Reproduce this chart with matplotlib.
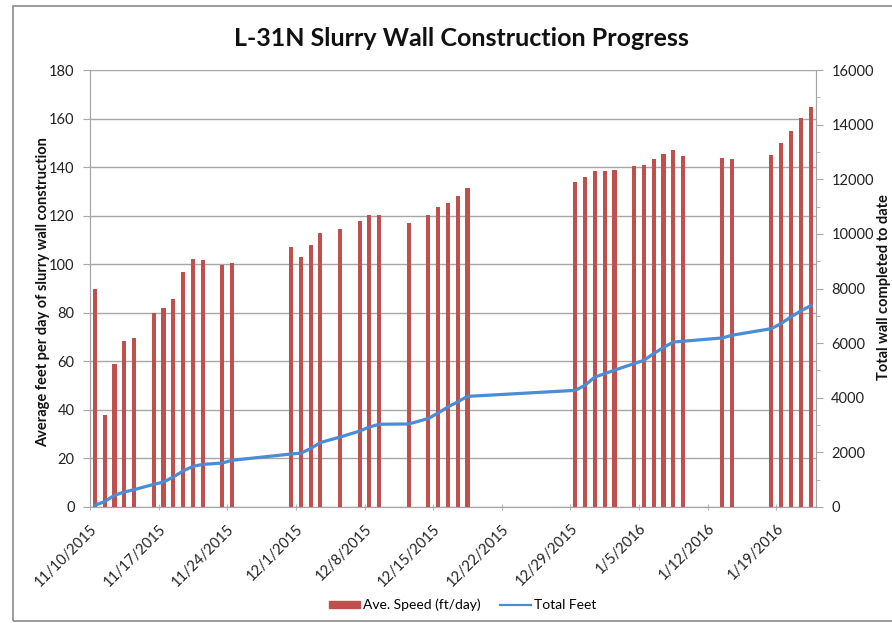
import matplotlib
matplotlib.use("Agg")
import matplotlib.pyplot as plt
import matplotlib.dates as mdates
from matplotlib.patches import Rectangle
from matplotlib.lines import Line2D
from matplotlib.ticker import MultipleLocator, FixedLocator
import datetime as dt

plt.rcParams['font.family'] = ['Lato', 'DejaVu Sans']

dates = ["2015-11-10", "2015-11-11", "2015-11-12", "2015-11-13", "2015-11-14",
         "2015-11-16", "2015-11-17", "2015-11-18", "2015-11-19", "2015-11-20",
         "2015-11-21", "2015-11-23", "2015-11-24", "2015-11-30", "2015-12-01",
         "2015-12-02", "2015-12-03", "2015-12-05", "2015-12-07", "2015-12-08",
         "2015-12-09", "2015-12-12", "2015-12-14", "2015-12-15", "2015-12-16",
         "2015-12-17", "2015-12-18", "2015-12-29", "2015-12-30", "2015-12-31",
         "2016-01-01", "2016-01-02", "2016-01-04", "2016-01-05", "2016-01-06",
         "2016-01-07", "2016-01-08", "2016-01-09", "2016-01-13", "2016-01-14",
         "2016-01-18", "2016-01-19", "2016-01-20", "2016-01-21", "2016-01-22"]

ave_speed = [90, 38, 58.7, 68.4, 69.8,
             79.8, 81.9, 85.7, 96.7, 102,
             101.7, 99.8, 100.6, 107.2, 103,
             107.9, 112.7, 114.5, 117.6, 120.1,
             120.4, 116.8, 120.4, 123.5, 125.4,
             128.3, 131.4, 133.8, 135.9, 138.4,
             138.5, 138.9, 140.4, 140.8, 143.3,
             145.6, 147.2, 144.5, 143.6, 143.3,
             144.8, 150, 154.9, 160.1, 164.7]

total_feet = [60, 200, 430, 550, 635,
              830, 915, 1100, 1320, 1490,
              1560, 1610, 1710, 1940, 1970,
              2140, 2360, 2560, 2780, 2930,
              3030, 3040, 3240, 3440, 3660,
              3850, 4050, 4270, 4460, 4760,
              4880, 5010, 5250, 5370, 5620,
              5840, 6040, 6070, 6190, 6290,
              6530, 6720, 6960, 7180, 7370]

tick_labels = ["11/10/2015", "11/17/2015", "11/24/2015", "12/1/2015", "12/8/2015",
               "12/15/2015", "12/22/2015", "12/29/2015", "1/5/2016", "1/12/2016",
               "1/19/2016"]

title = "L-31N Slurry Wall Construction Progress"

BAR_COLOR = "#C0504D"
LINE_COLOR = "#4A8CD6"
GRID_COLOR = "#A6A6A6"

d = [dt.datetime.strptime(s, "%Y-%m-%d") + dt.timedelta(hours=12) for s in dates]
x = mdates.date2num(d)
tick_dates = mdates.date2num([dt.datetime.strptime(s, "%m/%d/%Y") for s in tick_labels])

fig = plt.figure(figsize=(8.92, 6.23), dpi=100)
ax = fig.add_axes([90/892, 1-507/623, (816-90)/892, (507-70)/623])
ax2 = ax.twinx()

ax.bar(x, ave_speed, width=0.42, color=BAR_COLOR, zorder=3, label="Ave. Speed (ft/day)")
ax2.plot(x, total_feet, color=LINE_COLOR, lw=2.3, zorder=4, label="Total Feet",
         solid_joinstyle='round')

x0 = mdates.date2num(dt.datetime(2015, 11, 10))
x1 = mdates.date2num(dt.datetime(2016, 1, 23)) + 0.05
ax.set_xlim(x0, x1)
ax.set_ylim(0, 180)
ax2.set_ylim(0, 16000)
ax.yaxis.set_major_locator(MultipleLocator(20))
ax2.yaxis.set_major_locator(MultipleLocator(2000))
ax2.yaxis.set_minor_locator(MultipleLocator(1000))

ax.grid(axis='y', color=GRID_COLOR, lw=1.0, zorder=0)
ax.set_axisbelow(True)

# labels centred on the day slot, tick marks on the slot boundaries
ax.xaxis.set_major_locator(FixedLocator(tick_dates + 0.5))
ax.set_xticklabels(tick_labels, rotation=45, ha='right', va='center',
                   rotation_mode='anchor', fontsize=10.5, color="#222222")
ax.xaxis.set_minor_locator(FixedLocator(tick_dates))
ax.tick_params(axis='x', which='major', length=0, pad=14)
ax.tick_params(axis='x', which='minor', length=5, color=GRID_COLOR, direction='inout')

for a in (ax, ax2):
    for s in a.spines.values():
        s.set_color(GRID_COLOR)
    a.spines['top'].set_visible(False)
ax.tick_params(axis='y', length=5, color=GRID_COLOR, labelsize=10.5, labelcolor="#222222", pad=6)
ax2.tick_params(axis='y', which='major', length=5, color=GRID_COLOR, labelsize=10.5,
                labelcolor="#222222", pad=6)
ax2.tick_params(axis='y', which='minor', length=3, color=GRID_COLOR)

fig.text(43/892, 1-292/623, "Average feet per day of slurry wall construction",
         rotation=90, ha='center', va='center', fontsize=10.5, fontweight='bold',
         color="#111111")
fig.text(884/892, 1-287/623, "Total wall completed to date",
         rotation=90, ha='center', va='center', fontsize=10.5, fontweight='bold',
         color="#111111")

fig.text(461/892, 1-38/623, title, ha='center', va='center', fontsize=18,
         fontweight='bold', color="#111111")

handles = [Rectangle((0, 0), 1, 1, color=BAR_COLOR),
           Line2D([0], [0], color=LINE_COLOR, lw=1.6)]
fig.legend(handles, ["Ave. Speed (ft/day)", "Total Feet"], loc='center',
           bbox_to_anchor=(463/892, 1-605/623), ncol=2, frameon=False,
           fontsize=10, handlelength=2.2, handleheight=0.45, columnspacing=1.4,
           handletextpad=0.25)

frame = Rectangle((12.5/892, 2/623), 1.2, 1-8/623, transform=fig.transFigure,
                  fill=False, edgecolor="#8C8C8C", lw=1.2)
fig.patches.append(frame)

fig.savefig("out.png", dpi=100)
